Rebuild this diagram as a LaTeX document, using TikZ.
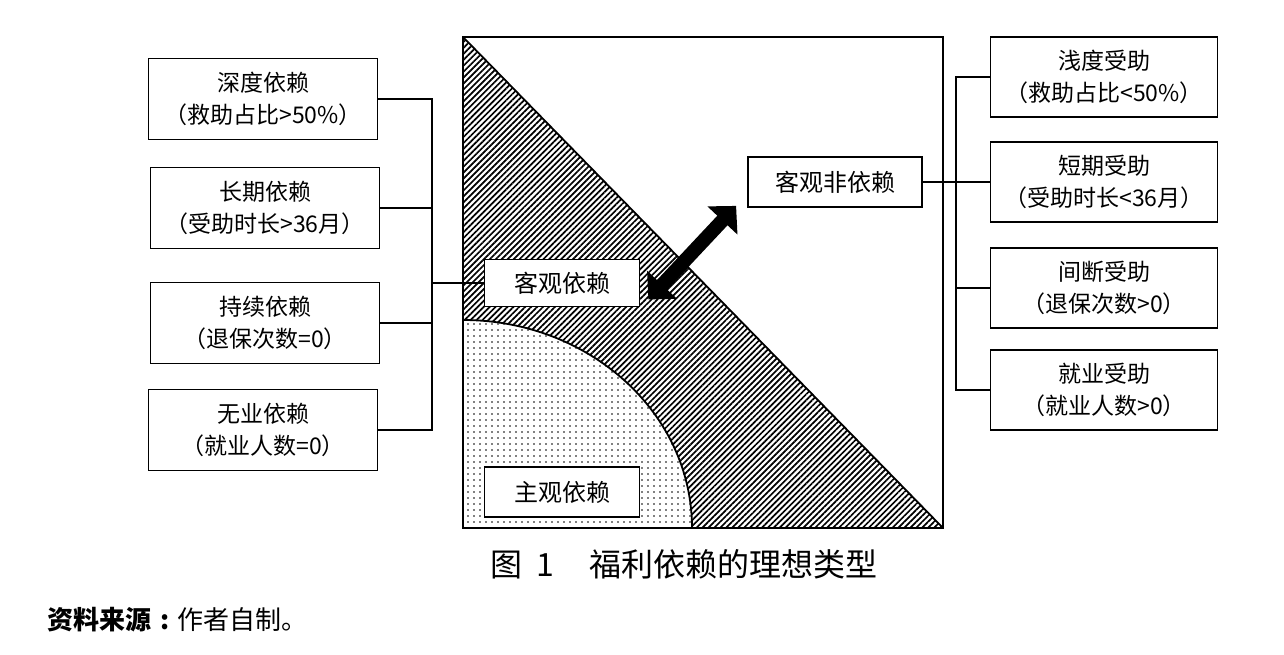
\documentclass[tikz,border=0pt]{standalone}
\usepackage{fontspec}
\setmainfont{Noto Sans CJK SC}
\usetikzlibrary{positioning,calc,patterns.meta,arrows.meta}

\tikzset{
  tipo/.style={draw, line width=1.8pt, fill=white, minimum width=229pt, minimum height=81pt,
    inner sep=0pt, align=center, font=\fontsize{23}{32}\selectfont},
  area/.style={draw, line width=1.8pt, fill=white, minimum width=155pt, minimum height=47pt,
    inner sep=0pt, font=\fontsize{24}{28}\selectfont},
  filo/.style={line width=1.4pt},
}

\begin{document}
\begin{tikzpicture}[x=1pt, y=1pt]
  \useasboundingbox (0,0) rectangle (1284,654);

  % AREE
  \fill[pattern={Lines[angle=45, distance=4.2pt, line width=1.7pt]}]
    (463,617) -- (943,126) -- (463,126) -- cycle;
  \fill[white] (463,126) -- (692,126) arc[start angle=0, end angle=90, x radius=229pt, y radius=208pt] -- cycle;
  \fill[pattern={Dots[distance=6pt, radius=0.95pt]}]
    (463,126) -- (692,126) arc[start angle=0, end angle=90, x radius=229pt, y radius=208pt] -- cycle;
  \draw[line width=1.8pt] (692,126) arc[start angle=0, end angle=90, x radius=229pt, y radius=208pt];
  \draw[line width=1.8pt] (463,617) -- (943,126);
  \draw[line width=1.8pt] (463,126) rectangle (943,617);

  % NODI
  \node[area] (kgyl) at (562,371) {客观依赖};
  \node[area, minimum height=50pt] (zgyl) at (562,162) {主观依赖};
  \node[area, minimum width=174pt, minimum height=50pt] (kgfyl) at (835,472) {客观非依赖};

  \node[tipo] (sdyl) at (263,555) {深度依赖\\（救助占比>50\%）};
  \node[tipo] (cqyl) at (265,446) {长期依赖\\（受助时长>36月）};
  \node[tipo] (cxyl) at (265,331) {持续依赖\\（退保次数=0）};
  \node[tipo] (wyyl) at (263,224) {无业依赖\\（就业人数=0）};

  \node[tipo, minimum width=227pt, minimum height=80pt] (qdsz) at (1104,577) {浅度受助\\（救助占比<50\%）};
  \node[tipo, minimum width=227pt, minimum height=80pt] (dqsz) at (1104,472) {短期受助\\（受助时长<36月）};
  \node[tipo, minimum width=227pt, minimum height=80pt] (jdsz) at (1104,366) {间断受助\\（退保次数>0）};
  \node[tipo, minimum width=227pt, minimum height=80pt] (jysz) at (1104,264) {就业受助\\（就业人数>0）};

  \coordinate (sx) at (432,371);
  \coordinate (dx) at (956,472);

  % COLLEGAMENTI
  \draw[filo] (sdyl.east) -| (sx);
  \draw[filo] (cqyl.east) -| (sx);
  \draw[filo] (cxyl.east) -| (sx);
  \draw[filo] (wyyl.east) -| (sx);
  \draw[filo] (sx) -- (kgyl.west);
  \draw[filo] (kgfyl.east) -- (dx);
  \draw[filo] (dx) |- (qdsz.west);
  \draw[filo] (dx) |- (dqsz.west);
  \draw[filo] (dx) |- (jdsz.west);
  \draw[filo] (dx) |- (jysz.west);

  \draw[line width=14pt, {Triangle[width=40pt, length=20pt]}-{Triangle[width=40pt, length=20pt]}]
    ($(kgyl.south east)+(8,8)$) -- ($(kgfyl.south west)+(-11,2)$);

  % DIDASCALIA
  \node[font=\fontsize{32}{38}\selectfont] (titolo) at (684,90)
    {图\hspace{0.45em}1\hspace{1.1em}福利依赖的理想类型};
  \node[anchor=west, font=\fontsize{26}{30}\selectfont, inner sep=0pt] (fonte) at (47,34)
    {\textbf{资料来源}\hspace{0.35em}\textbf{:}\hspace{0.3em}作者自制。};
\end{tikzpicture}
\end{document}
